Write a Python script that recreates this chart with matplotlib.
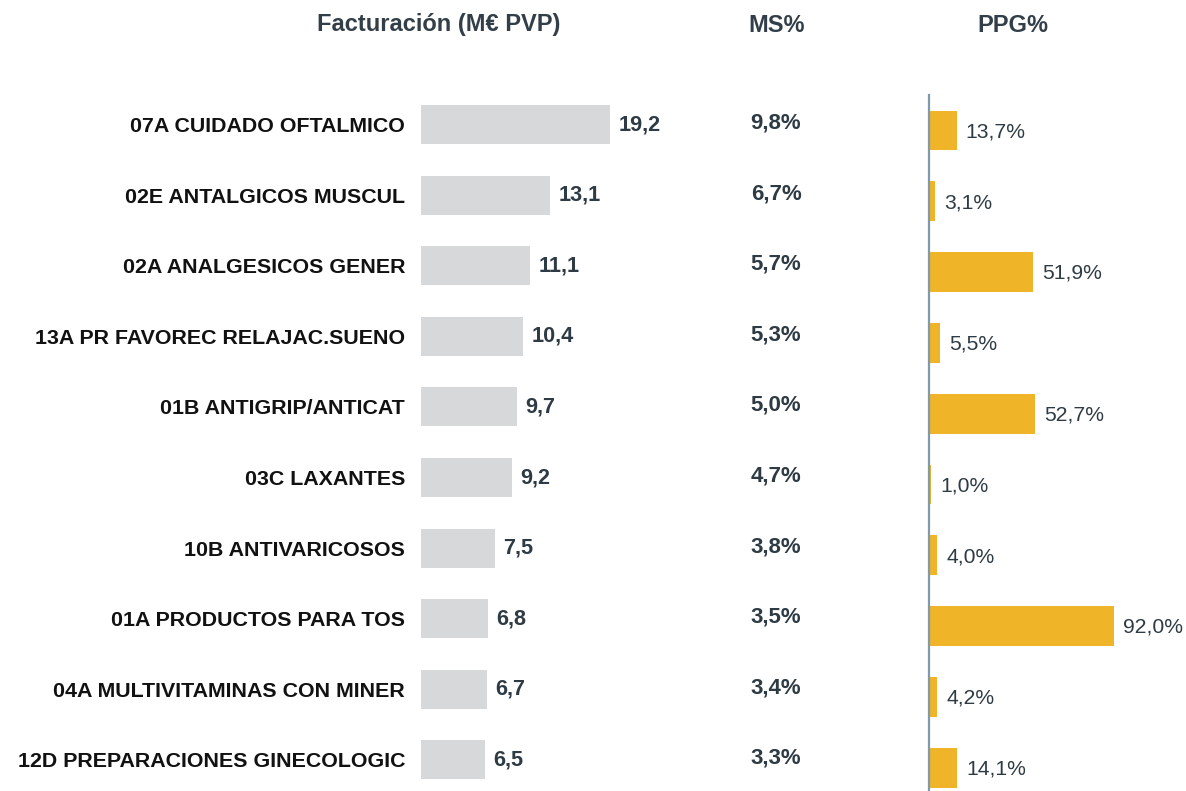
import matplotlib
matplotlib.use("Agg")
import matplotlib.pyplot as plt
from matplotlib.transforms import blended_transform_factory

plt.rcParams['font.family'] = ['Liberation Sans', 'DejaVu Sans']

categories = [
    '07A CUIDADO OFTALMICO',
    '02E ANTALGICOS MUSCUL',
    '02A ANALGESICOS GENER',
    '13A PR FAVOREC RELAJAC.SUENO',
    '01B ANTIGRIP/ANTICAT',
    '03C LAXANTES',
    '10B ANTIVARICOSOS',
    '01A PRODUCTOS PARA TOS',
    '04A MULTIVITAMINAS CON MINER',
    '12D PREPARACIONES GINECOLOGIC',
]
facturacion = [19.2, 13.1, 11.1, 10.4, 9.7, 9.2, 7.5, 6.8, 6.7, 6.5]
ms_pct = [9.8, 6.7, 5.7, 5.3, 5.0, 4.7, 3.8, 3.5, 3.4, 3.3]
ppg_pct = [13.7, 3.1, 51.9, 5.5, 52.7, 1.0, 4.0, 92.0, 4.2, 14.1]

W, H = 1186, 791
GREY = '#d7d8da'
GOLD = '#f0b429'
DARK = '#2e3b44'
AXIS = '#7f9aad'


def es(v, pct=False):
    s = f'{v:.1f}'.replace('.', ',')
    return s + '%' if pct else s


fig = plt.figure(figsize=(W / 100, H / 100), dpi=100)

rows = list(range(len(categories)))

# left panel: sales bars
ax1 = fig.add_axes([421 / W, 0, 280 / W, 1])
ax1.barh(rows, facturacion, height=0.55, color=GREY)
ax1.set_xlim(0, 280 / 9.85)
ax1.set_ylim((H - 124.5) / 70.6, -124.5 / 70.6)
ax1.set_yticks(rows)
ax1.set_yticklabels(categories, fontsize=15.4, fontweight='bold', color='#111111')
ax1.tick_params(axis='y', length=0, pad=11.5)
ax1.set_xticks([])
for s in ax1.spines.values():
    s.set_visible(False)
for i, v in enumerate(facturacion):
    ax1.annotate(es(v), (v, i), xytext=(6, 0), textcoords='offset points',
                 va='center', ha='left', fontsize=15.6, fontweight='bold', color=DARK)

# market share column
tr = blended_transform_factory(fig.transFigure, ax1.transData)
for i, v in enumerate(ms_pct):
    ax1.text(776 / W, i - 0.02, es(v, True), transform=tr, ha='center', va='center',
             fontsize=16, fontweight='bold', color=DARK)

# right panel: PPG bars
ax2 = fig.add_axes([929 / W, 0, (W - 929) / W, 1])
ax2.barh(rows, ppg_pct, height=0.56, color=GOLD)
ax2.set_xlim(0, (W - 929) / 2.01)
ax2.set_ylim((H - 130.5) / 70.8, -130.5 / 70.8)
ax2.set_xticks([])
ax2.set_yticks([])
for s in ax2.spines.values():
    s.set_visible(False)
ax2.axvline(0, ymin=0, ymax=1 - 95 / H, color=AXIS, lw=1.6, clip_on=False)
for i, v in enumerate(ppg_pct):
    ax2.annotate(es(v, True), (v, i), xytext=(6.5, -1), textcoords='offset points',
                 va='center', ha='left', fontsize=15.2, color=DARK)

# column headers
for x, t in [(439, 'Facturación (M€ PVP)'), (777, 'MS%'), (1013, 'PPG%')]:
    fig.text(x / W, 1 - 25 / H, t, ha='center', va='center',
             fontsize=17, fontweight='bold', color='#333f48')

fig.savefig('out.png', dpi=100)
